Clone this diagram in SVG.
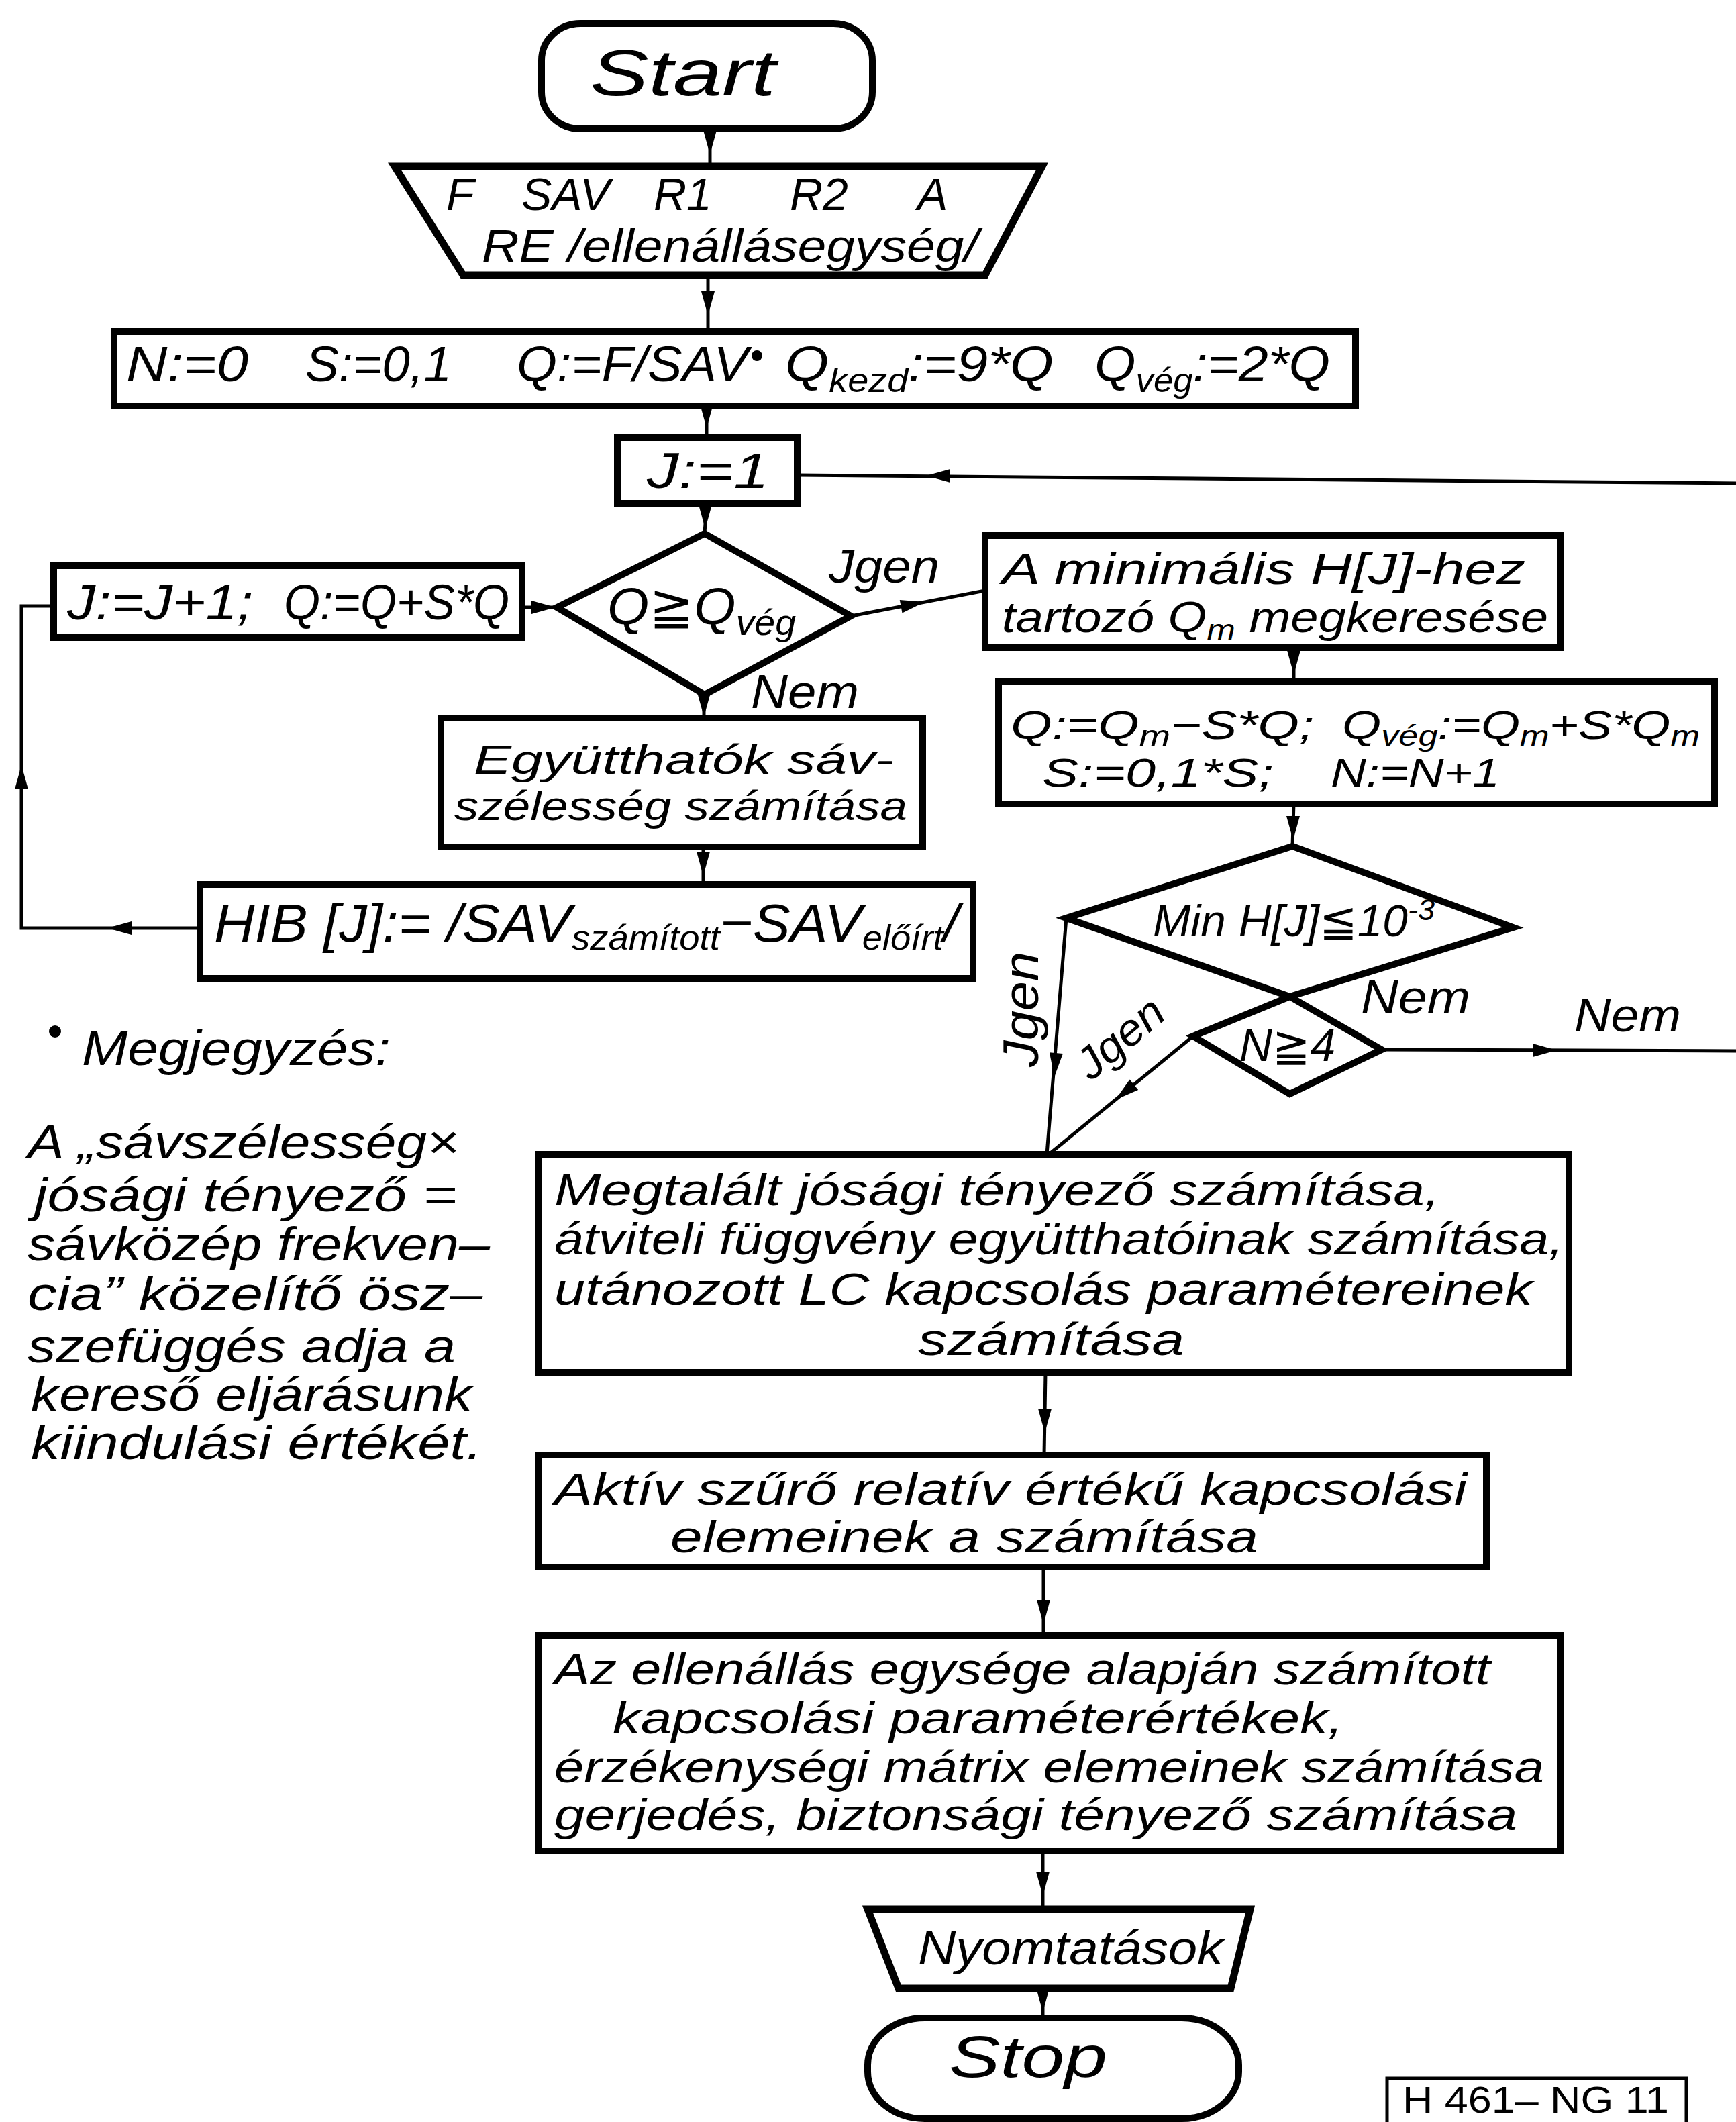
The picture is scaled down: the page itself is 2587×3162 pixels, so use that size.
<svg xmlns="http://www.w3.org/2000/svg" xmlns:xlink="http://www.w3.org/1999/xlink" width="2587" height="3162" viewBox="0 0 2587 3162">
<style>
.box{fill:#fff;stroke:#000;stroke-width:10;stroke-linejoin:miter}
.io{fill:#fff;stroke:#000;stroke-width:11;stroke-linejoin:miter}
.conn{fill:none;stroke:#000;stroke-width:5}
.t{font-family:"Liberation Sans","DejaVu Sans",sans-serif;font-style:italic;fill:#000}
.u{font-family:"Liberation Sans","DejaVu Sans",sans-serif;fill:#000}
.ah{fill:#000}
</style>
<defs>
<path id="ah" d="M0,0 L-36,-10 L-36,10 Z"/>
</defs>
<rect width="2587" height="3162" fill="#fff"/>

<g id="connectors">
<path class="conn" d="M1058,192 V248"/>
<path class="conn" d="M1055,410 V494"/>
<path class="conn" d="M1053,605 V652"/>
<path class="conn" d="M1053,750 L1050,795"/>
<path class="conn" d="M2587,720 L1188,708"/>
<path class="conn" d="M1268,918 L1468,880"/>
<path class="conn" d="M1049,1035 V1070"/>
<path class="conn" d="M1048,1262 V1318"/>
<path class="conn" d="M298,1383 H32 V903 H80"/>
<path class="conn" d="M778,905 H830"/>
<path class="conn" d="M1928,965 V1015"/>
<path class="conn" d="M1928,1198 L1926,1261"/>
<path class="conn" d="M1589,1368 L1560,1720"/>
<path class="conn" d="M1778,1544 L1563,1720"/>
<path class="conn" d="M2059,1564 L2587,1566"/>
<path class="conn" d="M1558,2045 L1556,2168"/>
<path class="conn" d="M1555,2335 V2437"/>
<path class="conn" d="M1554,2758 V2845"/>
<path class="conn" d="M1554,2963 V3007"/>
<g class="ah">
<use xlink:href="#ah" transform="translate(1058,230) rotate(90)"/>
<use xlink:href="#ah" transform="translate(1055,470) rotate(90)"/>
<use xlink:href="#ah" transform="translate(1053,638) rotate(90)"/>
<use xlink:href="#ah" transform="translate(1051,788) rotate(90)"/>
<use xlink:href="#ah" transform="translate(1380,709) rotate(180)"/>
<use xlink:href="#ah" transform="translate(1378,897) rotate(-10.8)"/>
<use xlink:href="#ah" transform="translate(1049,1068) rotate(90)"/>
<use xlink:href="#ah" transform="translate(1048,1305) rotate(90)"/>
<use xlink:href="#ah" transform="translate(160,1383) rotate(180)"/>
<use xlink:href="#ah" transform="translate(32,1140) rotate(-90)"/>
<use xlink:href="#ah" transform="translate(828,905)"/>
<use xlink:href="#ah" transform="translate(1928,1005) rotate(90)"/>
<use xlink:href="#ah" transform="translate(1927,1252) rotate(90)"/>
<use xlink:href="#ah" transform="translate(1571,1605) rotate(94.7)"/>
<use xlink:href="#ah" transform="translate(1662,1639) rotate(140.7)"/>
<use xlink:href="#ah" transform="translate(2320,1565)"/>
<use xlink:href="#ah" transform="translate(1557,2135) rotate(90)"/>
<use xlink:href="#ah" transform="translate(1555,2420) rotate(90)"/>
<use xlink:href="#ah" transform="translate(1554,2825) rotate(90)"/>
<use xlink:href="#ah" transform="translate(1554,2998) rotate(90)"/>
</g>
<text class="t" x="1235" y="868" font-size="70" textLength="165" lengthAdjust="spacingAndGlyphs">Jgen</text>
<text class="t" x="1119" y="1055" font-size="70" textLength="161" lengthAdjust="spacingAndGlyphs">Nem</text>
<text class="t" x="2028" y="1510" font-size="70" textLength="163" lengthAdjust="spacingAndGlyphs">Nem</text>
<text class="t" x="2346" y="1537" font-size="70" textLength="159" lengthAdjust="spacingAndGlyphs">Nem</text>
<text class="t" font-size="74" textLength="172" lengthAdjust="spacingAndGlyphs" transform="translate(1547,1590) rotate(-90)">Jgen</text>
<text class="t" font-size="66" textLength="150" lengthAdjust="spacingAndGlyphs" transform="translate(1626,1612) rotate(-40)">Jgen</text>
</g>

<g id="start">
<rect class="box" x="807" y="35" width="493" height="157" rx="58" ry="55"/>
<text class="t" x="879" y="142" font-size="96" textLength="277" lengthAdjust="spacingAndGlyphs">Start</text>
</g>

<g id="input">
<polygon class="io" points="588,248 1553,248 1468,410 690,410"/>
<text class="t" y="313" font-size="68"><tspan x="665">F</tspan><tspan x="777">SAV</tspan><tspan x="974">R1</tspan><tspan x="1177">R2</tspan><tspan x="1367">A</tspan></text>
<text class="t" x="718" y="390" font-size="68" textLength="740" lengthAdjust="spacingAndGlyphs">RE /ellenállásegység/</text>
</g>

<g id="init">
<rect class="box" x="170" y="494" width="1850" height="111"/>
<text class="t" x="188" y="568" font-size="75" textLength="182" lengthAdjust="spacingAndGlyphs">N:=0</text>
<text class="t" x="455" y="568" font-size="75" textLength="218" lengthAdjust="spacingAndGlyphs">S:=0,1</text>
<text class="t" x="770" y="568" font-size="75" textLength="345" lengthAdjust="spacingAndGlyphs">Q:=F/SAV</text>
<circle cx="1128" cy="530" r="8" fill="#000"/>
<text class="t" x="1170" y="568" font-size="75" textLength="400" lengthAdjust="spacingAndGlyphs">Q<tspan font-size="50" dy="16">kezd</tspan><tspan dy="-16">:=9*Q</tspan></text>
<text class="t" x="1631" y="568" font-size="75" textLength="351" lengthAdjust="spacingAndGlyphs">Q<tspan font-size="50" dy="16">vég</tspan><tspan dy="-16">:=2*Q</tspan></text>
</g>

<g id="j1">
<rect class="box" x="920" y="652" width="268" height="98"/>
<text class="t" x="964" y="727" font-size="75" textLength="182" lengthAdjust="spacingAndGlyphs">J:=1</text>
</g>

<g id="decision-q">
<polygon class="box" points="1050,795 1268,918 1050,1035 830,905"/>
<text class="t" x="905" y="930" font-size="78" textLength="281" lengthAdjust="spacingAndGlyphs">Q≧Q<tspan font-size="54" dy="16">vég</tspan></text>
</g>

<g id="increment">
<rect class="box" x="80" y="843" width="698" height="107"/>
<text class="t" y="923" font-size="75"><tspan x="100" textLength="277" lengthAdjust="spacingAndGlyphs">J:=J+1;</tspan><tspan x="423" textLength="336" lengthAdjust="spacingAndGlyphs">Q:=Q+S*Q</tspan></text>
</g>

<g id="coeff">
<rect class="box" x="657" y="1070" width="718" height="192"/>
<text class="t" x="706" y="1153" font-size="62" textLength="626" lengthAdjust="spacingAndGlyphs">Együtthatók sáv-</text>
<text class="t" x="677" y="1222" font-size="62" textLength="675" lengthAdjust="spacingAndGlyphs">szélesség számítása</text>
</g>

<g id="hib">
<rect class="box" x="298" y="1318" width="1152" height="140"/>
<text class="t" x="319" y="1403" font-size="80" textLength="1110" lengthAdjust="spacingAndGlyphs">HIB [J]:= /SAV<tspan font-size="52" dy="12">számított</tspan><tspan dy="-12">−SAV</tspan><tspan font-size="52" dy="12">előírt</tspan><tspan dy="-12">/</tspan></text>
</g>

<g id="search">
<rect class="box" x="1468" y="798" width="857" height="167"/>
<text class="t" x="1493" y="870" font-size="64" textLength="780" lengthAdjust="spacingAndGlyphs">A minimális H[J]-hez</text>
<text class="t" x="1493" y="942" font-size="64" textLength="814" lengthAdjust="spacingAndGlyphs">tartozó Q<tspan font-size="44" dy="12">m</tspan><tspan dy="-12"> megkeresése</tspan></text>
</g>

<g id="update">
<rect class="box" x="1488" y="1015" width="1067" height="183"/>
<text class="t" x="1506" y="1101" font-size="60" textLength="452" lengthAdjust="spacingAndGlyphs">Q:=Q<tspan font-size="42" dy="10">m</tspan><tspan dy="-10">−S*Q;</tspan></text>
<text class="t" x="2000" y="1101" font-size="60" textLength="533" lengthAdjust="spacingAndGlyphs">Q<tspan font-size="42" dy="10">vég</tspan><tspan dy="-10">:=Q</tspan><tspan font-size="42" dy="10">m</tspan><tspan dy="-10">+S*Q</tspan><tspan font-size="42" dy="10">m</tspan></text>
<text class="t" x="1553" y="1172" font-size="60" textLength="345" lengthAdjust="spacingAndGlyphs">S:=0,1*S;</text>
<text class="t" x="1983" y="1172" font-size="60" textLength="252" lengthAdjust="spacingAndGlyphs">N:=N+1</text>
</g>

<g id="decision-min">
<polygon class="box" points="1926,1261 2255,1382 1922,1485 1589,1368"/>
<text class="t" x="1718" y="1395" font-size="66" textLength="420" lengthAdjust="spacingAndGlyphs">Min H[J]≦10<tspan font-size="44" dy="-24">-3</tspan></text>
</g>

<g id="decision-n">
<polygon class="box" points="1922,1485 2059,1564 1922,1630 1778,1544"/>
<text class="t" x="1847" y="1581" font-size="68" textLength="143" lengthAdjust="spacingAndGlyphs">N≧4</text>
</g>

<g id="calc-q">
<rect class="box" x="803" y="1720" width="1535" height="325"/>
<text class="t" x="826" y="1796" font-size="66" textLength="1320" lengthAdjust="spacingAndGlyphs">Megtalált jósági tényező számítása,</text>
<text class="t" x="826" y="1869" font-size="66" textLength="1504" lengthAdjust="spacingAndGlyphs">átviteli függvény együtthatóinak számítása,</text>
<text class="t" x="826" y="1944" font-size="66" textLength="1458" lengthAdjust="spacingAndGlyphs">utánozott LC kapcsolás paramétereinek</text>
<text class="t" x="1368" y="2019" font-size="66" textLength="397" lengthAdjust="spacingAndGlyphs">számítása</text>
</g>

<g id="calc-active">
<rect class="box" x="803" y="2168" width="1412" height="167"/>
<text class="t" x="826" y="2242" font-size="66" textLength="1360" lengthAdjust="spacingAndGlyphs">Aktív szűrő relatív értékű kapcsolási</text>
<text class="t" x="999" y="2313" font-size="66" textLength="876" lengthAdjust="spacingAndGlyphs">elemeinek a számítása</text>
</g>

<g id="calc-params">
<rect class="box" x="803" y="2437" width="1522" height="321"/>
<text class="t" x="826" y="2510" font-size="66" textLength="1395" lengthAdjust="spacingAndGlyphs">Az ellenállás egysége alapján számított</text>
<text class="t" x="913" y="2583" font-size="66" textLength="1089" lengthAdjust="spacingAndGlyphs">kapcsolási paraméterértékek,</text>
<text class="t" x="826" y="2656" font-size="66" textLength="1475" lengthAdjust="spacingAndGlyphs">érzékenységi mátrix elemeinek számítása</text>
<text class="t" x="826" y="2727" font-size="66" textLength="1435" lengthAdjust="spacingAndGlyphs">gerjedés, biztonsági tényező számítása</text>
</g>

<g id="output">
<polygon class="io" points="1293,2845 1863,2845 1834,2963 1339,2963"/>
<text class="t" x="1368" y="2927" font-size="70" textLength="455" lengthAdjust="spacingAndGlyphs">Nyomtatások</text>
</g>

<g id="stop">
<rect class="box" x="1293" y="3007" width="553" height="150" rx="85" ry="70"/>
<text class="t" x="1414" y="3095" font-size="88" textLength="236" lengthAdjust="spacingAndGlyphs">Stop</text>
</g>

<g id="note">
<circle cx="82" cy="1537" r="9" fill="#000"/>
<text class="t" x="122" y="1587" font-size="72" textLength="460" lengthAdjust="spacingAndGlyphs">Megjegyzés:</text>
<text class="t" x="41" y="1726" font-size="70" textLength="643" lengthAdjust="spacingAndGlyphs">A „sávszélesség×</text>
<text class="t" x="51" y="1805" font-size="70" textLength="630" lengthAdjust="spacingAndGlyphs">jósági tényező =</text>
<text class="t" x="41" y="1878" font-size="70" textLength="689" lengthAdjust="spacingAndGlyphs">sávközép frekven–</text>
<text class="t" x="41" y="1952" font-size="70" textLength="678" lengthAdjust="spacingAndGlyphs">cia” közelítő ösz–</text>
<text class="t" x="41" y="2030" font-size="70" textLength="638" lengthAdjust="spacingAndGlyphs">szefüggés adja a</text>
<text class="t" x="46" y="2102" font-size="70" textLength="658" lengthAdjust="spacingAndGlyphs">kereső eljárásunk</text>
<text class="t" x="46" y="2174" font-size="70" textLength="673" lengthAdjust="spacingAndGlyphs">kiindulási értékét.</text>
</g>

<g id="ref-label">
<path d="M2067,3162 V3097 H2513 V3162" fill="none" stroke="#000" stroke-width="5"/>
<text class="u" x="2090" y="3148" font-size="56" textLength="397" lengthAdjust="spacingAndGlyphs">H 461– NG 11</text>
</g>
</svg>
